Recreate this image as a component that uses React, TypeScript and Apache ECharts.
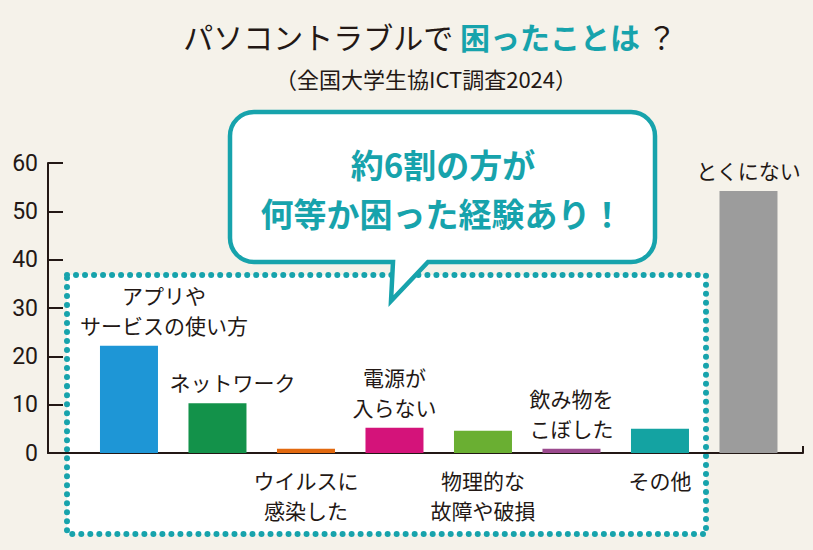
import React, { useEffect, useRef } from "react";
import * as echarts from "echarts";

const categories = [
  "アプリや\nサービスの使い方",
  "ネットワーク",
  "ウイルスに\n感染した",
  "電源が\n入らない",
  "物理的な\n故障や破損",
  "飲み物を\nこぼした",
  "その他",
  "とくにない",
];
const values = [22.2, 10.3, 0.9, 5.2, 4.6, 0.9, 5.0, 54.2];
const barColors = ["#1e96d6", "#13924a", "#e2690f", "#d4137a", "#6aaf32", "#9b4a8e", "#14a3a2", "#9c9c9c"];
const labelSides = ["top", "top", "bottom", "top", "bottom", "top", "bottom", "top"];
const titleParts = ["パソコントラブルで ", "困ったことは", " ？"];
const subtitle = "（全国大学生協ICT調査2024）";
const calloutLines = ["約6割の方が", "何等か困った経験あり！"];

const TEAL = "#17a3ac";
const DARK = "#231815";
const JP = "'Noto Sans CJK JP', 'Noto Sans', sans-serif";

const BUBBLE_D =
  "M 254 112 H 631 A 24 24 0 0 1 655 136 V 238 A 24 24 0 0 1 631 262 H 428 L 391 301 L 393 262 H 254 A 24 24 0 0 1 230 238 V 136 A 24 24 0 0 1 254 112 Z";

let registered = false;

export default function App() {
  const ref = useRef<HTMLDivElement>(null);
  useEffect(() => {
    if (!registered) {
      echarts.graphic.registerShape("bubble", echarts.graphic.extendPath(BUBBLE_D, {}));
      registered = true;
    }
    const chart = echarts.init(ref.current!, undefined, { renderer: "svg" });
    const labelOffsetX = [35, 15, 0, 0, 0, 0, 0, 0];
    const option: any = {
      animation: false,
      backgroundColor: "#f5f2ea",
      grid: { left: 48, right: 10, top: 163, bottom: 97, containLabel: false },
      xAxis: {
        type: "value",
        min: -0.915,
        max: 7.616,
        axisLine: { show: true, onZero: true, lineStyle: { color: DARK, width: 2 } },
        axisTick: { show: true, customValues: [7.616], inside: true, length: 7, lineStyle: { color: DARK, width: 2 } },
        axisLabel: { show: false },
        splitLine: { show: false },
      },
      yAxis: {
        type: "value",
        min: 0,
        max: 60,
        interval: 10,
        axisLine: { show: true, onZero: false, lineStyle: { color: DARK, width: 2 } },
        axisTick: { show: true, inside: true, length: 15, lineStyle: { color: DARK, width: 2 } },
        axisLabel: { color: DARK, fontSize: 23, margin: 10, fontFamily: "Roboto, sans-serif" },
        splitLine: { show: false },
      },
      series: [
        {
          type: "bar",
          barWidth: 58,
          data: values.map((v, i) => ({
            value: [i, v],
            itemStyle: { color: barColors[i] },
            label: {
              show: true,
              position: labelSides[i],
              distance: labelSides[i] === "top" ? 6 : 12,
              offset: [labelOffsetX[i], 0],
              formatter: categories[i],
              color: DARK,
              fontSize: 21,
              lineHeight: 30,
              fontFamily: JP,
            },
          })),
        },
      ],
      graphic: [
        {
          type: "rect",
          z: -1,
          shape: { x: 67, y: 275, width: 639, height: 259 },
          style: { fill: "#ffffff" },
        },
        {
          type: "rect",
          z: -1,
          shape: { x: 67, y: 275, width: 639, height: 259 },
          style: { fill: "none", stroke: TEAL, lineWidth: 6, lineDash: [0.01, 9], lineCap: "round" },
        },
        {
          type: "bubble",
          z: 10,
          x: 0,
          y: 0,
          scaleX: 1,
          scaleY: 1,
          style: { fill: "#ffffff", stroke: TEAL, lineWidth: 4.5, lineJoin: "miter" },
        },
        {
          type: "text",
          z: 11,
          x: 443,
          y: 164,
          style: {
            text: calloutLines[0],
            fill: TEAL,
            fontSize: 33,
            fontWeight: "bold",
            fontFamily: JP,
            align: "center",
            verticalAlign: "middle",
          },
        },
        {
          type: "text",
          z: 11,
          x: 442,
          y: 213,
          style: {
            text: calloutLines[1],
            fill: TEAL,
            fontSize: 33,
            fontWeight: "bold",
            fontFamily: JP,
            align: "center",
            verticalAlign: "middle",
          },
        },
        {
          type: "text",
          z: 11,
          x: 430,
          y: 36,
          style: {
            text: `{a|${titleParts[0]}}{b|${titleParts[1]}}{a|${titleParts[2]}}`,
            align: "center",
            verticalAlign: "middle",
            rich: {
              a: { fontSize: 30, fill: DARK, fontFamily: JP },
              b: { fontSize: 30, fill: TEAL, fontWeight: "bold", fontFamily: JP },
            },
          },
        },
        {
          type: "text",
          z: 11,
          x: 426,
          y: 78,
          style: {
            text: subtitle,
            fill: DARK,
            fontSize: 22,
            fontFamily: JP,
            align: "center",
            verticalAlign: "middle",
          },
        },
      ],
    };
    chart.setOption(option);
    return () => chart.dispose();
  }, []);
  return (
    <div
      ref={ref}
      style={{ position: "fixed", left: 0, top: 0, width: 813, height: 550 }}
    />
  );
}
